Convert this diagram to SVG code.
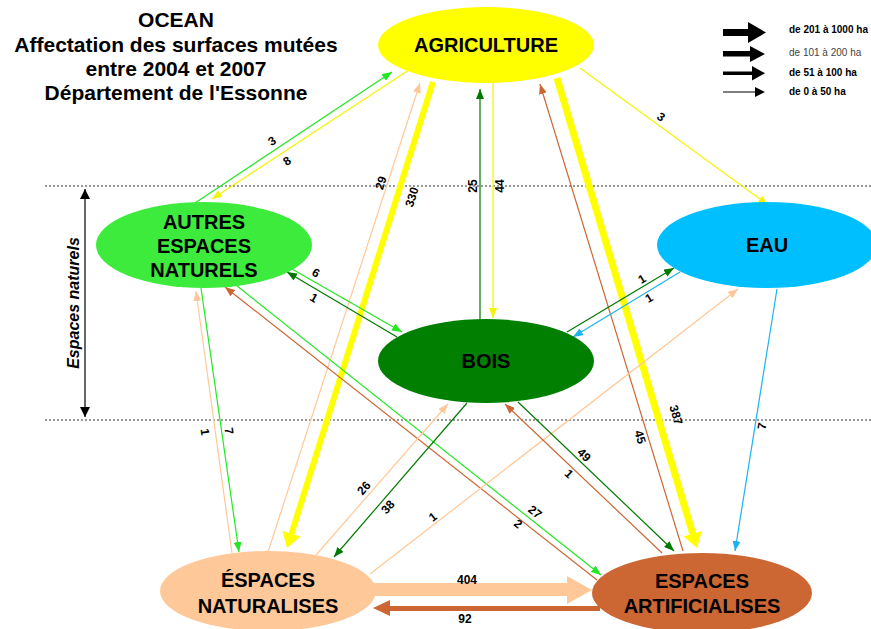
<svg xmlns="http://www.w3.org/2000/svg" width="871" height="629" viewBox="0 0 871 629">
<style>
text{font-family:"Liberation Sans",Arial,sans-serif;font-weight:bold;fill:#000}
.title{font-size:21px;text-anchor:middle}
.node{font-size:20px;text-anchor:middle}
.lbl{font-size:12px;text-anchor:middle}
.leg{font-size:10px}
.c{fill:none;stroke-width:1.2}
.dot{stroke:#333;stroke-width:1;stroke-dasharray:2,2}
</style>
<defs>
<marker id="mg" markerUnits="userSpaceOnUse" markerWidth="10" markerHeight="8" refX="10" refY="4" orient="auto"><path d="M0,0L10,4L0,8z" fill="#22e822"/></marker>
<marker id="my" markerUnits="userSpaceOnUse" markerWidth="10" markerHeight="8" refX="10" refY="4" orient="auto"><path d="M0,0L10,4L0,8z" fill="#f4f400"/></marker>
<marker id="md" markerUnits="userSpaceOnUse" markerWidth="10" markerHeight="8" refX="10" refY="4" orient="auto"><path d="M0,0L10,4L0,8z" fill="#007a00"/></marker>
<marker id="mp" markerUnits="userSpaceOnUse" markerWidth="10" markerHeight="8" refX="10" refY="4" orient="auto"><path d="M0,0L10,4L0,8z" fill="#ffc898"/></marker>
<marker id="mb" markerUnits="userSpaceOnUse" markerWidth="10" markerHeight="8" refX="10" refY="4" orient="auto"><path d="M0,0L10,4L0,8z" fill="#cc6633"/></marker>
<marker id="ml" markerUnits="userSpaceOnUse" markerWidth="10" markerHeight="8" refX="10" refY="4" orient="auto"><path d="M0,0L10,4L0,8z" fill="#1ab4f0"/></marker>
<marker id="mY" markerUnits="userSpaceOnUse" markerWidth="15" markerHeight="19" refX="1" refY="9.5" orient="auto"><path d="M0,0L15,9.5L0,19z" fill="#ffff00"/></marker>
<marker id="mk" markerUnits="userSpaceOnUse" markerWidth="10" markerHeight="10" refX="10" refY="5" orient="auto-start-reverse"><path d="M0,0L10,5L0,10z" fill="#000"/></marker>
</defs>
<rect width="871" height="629" fill="#fff"/>

<g id="title">
<text class="title" x="176" y="27">OCEAN</text>
<text class="title" x="176" y="52">Affectation des surfaces mutées</text>
<text class="title" x="176" y="76">entre 2004 et 2007</text>
<text class="title" x="176" y="100">Département de l'Essonne</text>
</g>

<g id="legend">
<polygon points="723,29 748,29 748,22 766,32.5 748,43 748,36 723,36" fill="#000"/>
<polygon points="723,51 750,51 750,46 765,54 750,62 750,56.5 723,56.5" fill="#000"/>
<polygon points="723,71.5 752,71.5 752,66 765,73.3 752,80.5 752,75 723,75" fill="#000"/>
<polygon points="723,91.4 755,91.4 755,87 765,92 755,97 755,92.6 723,92.6" fill="#000"/>
<text class="leg" x="789" y="33">de 201 à 1000 ha</text>
<text class="leg" x="789" y="56" style="font-weight:normal;fill:#444">de 101 à 200 ha</text>
<text class="leg" x="789" y="76">de 51 à 100 ha</text>
<text class="leg" x="789" y="95">de 0 à 50 ha</text>
</g>

<g id="zones">
<line class="dot" x1="45" y1="186" x2="871" y2="186"/>
<line class="dot" x1="45" y1="420" x2="871" y2="420"/>
<line x1="85" y1="189" x2="85" y2="417" stroke="#000" stroke-width="1.2" marker-start="url(#mk)" marker-end="url(#mk)"/>
<text transform="translate(79,303) rotate(-90)" style="font-size:16px;font-style:italic;text-anchor:middle">Espaces naturels</text>
</g>

<g id="connectors">
<path class="c" stroke="#22e822" d="M195,203L392,72" marker-end="url(#mg)"/>
<path class="c" stroke="#f4f400" d="M415,66L212,199" marker-end="url(#my)"/>
<path class="c" stroke="#ffc898" d="M268,552L420,83" marker-end="url(#mp)"/>
<path fill="none" stroke="#ffff00" stroke-width="6" d="M433,82L291.2,534.6" marker-end="url(#mY)"/>
<path class="c" stroke="#007a00" d="M480,322L480,89" marker-end="url(#md)"/>
<path class="c" stroke="#f4f400" d="M493,83L493,318" marker-end="url(#my)"/>
<path class="c" stroke="#cc6633" d="M683,551L540,84" marker-end="url(#mb)"/>
<path fill="none" stroke="#ffff00" stroke-width="7" d="M557,78L693,534.6" marker-end="url(#mY)"/>
<path class="c" stroke="#f4f400" d="M580,68L768,205" marker-end="url(#my)"/>
<path class="c" stroke="#22e822" d="M285,265L402,332" marker-end="url(#mg)"/>
<path class="c" stroke="#007a00" d="M397,337L287,272" marker-end="url(#md)"/>
<path class="c" stroke="#007a00" d="M567,332L674,268" marker-end="url(#md)"/>
<path class="c" stroke="#1ab4f0" d="M680,272L573,337" marker-end="url(#ml)"/>
<path class="c" stroke="#22e822" d="M201,288L239,552" marker-end="url(#mg)"/>
<path class="c" stroke="#ffc898" d="M232,553L196,291" marker-end="url(#mp)"/>
<path class="c" stroke="#22e822" d="M227,278L601,575" marker-end="url(#mg)"/>
<path class="c" stroke="#cc6633" d="M597,580L225,287" marker-end="url(#mb)"/>
<path class="c" stroke="#ffc898" d="M316,555L448,404" marker-end="url(#mp)"/>
<path class="c" stroke="#007a00" d="M467,403L334,557" marker-end="url(#md)"/>
<path class="c" stroke="#ffc898" d="M370,574L738,289" marker-end="url(#mp)"/>
<path class="c" stroke="#007a00" d="M518,402L674,551" marker-end="url(#md)"/>
<path class="c" stroke="#cc6633" d="M662,553L505,404" marker-end="url(#mb)"/>
<path class="c" stroke="#1ab4f0" d="M777,289L735,551" marker-end="url(#ml)"/>
<polygon points="360,583 567,583 567,576 592,590 567,604 567,596 360,596" fill="#ffc898"/>
<polygon points="600,606 390,606 390,600 373,608 390,616 390,611 600,611" fill="#cc6633"/>
</g>

<g id="labels">
<text class="lbl" transform="translate(272,141) rotate(-33.6)" y="4">3</text>
<text class="lbl" transform="translate(287,161) rotate(-33.6)" y="4">8</text>
<text class="lbl" transform="translate(381,183) rotate(-72)" y="4">29</text>
<text class="lbl" transform="translate(412,197) rotate(-72.6)" y="4">330</text>
<text class="lbl" transform="translate(473,186) rotate(-90)" y="4">25</text>
<text class="lbl" transform="translate(500,186) rotate(-90)" y="4">44</text>
<text class="lbl" transform="translate(640,437) rotate(73.3)" y="4">45</text>
<text class="lbl" transform="translate(676,415) rotate(73.4)" y="4">387</text>
<text class="lbl" transform="translate(661,117) rotate(36)" y="4">3</text>
<text class="lbl" transform="translate(316,273) rotate(29.6)" y="4">6</text>
<text class="lbl" transform="translate(314,298) rotate(29.6)" y="4">1</text>
<text class="lbl" transform="translate(642,279) rotate(-31.3)" y="4">1</text>
<text class="lbl" transform="translate(649,298) rotate(-31.3)" y="4">1</text>
<text class="lbl" transform="translate(205,432) rotate(82)" y="4">1</text>
<text class="lbl" transform="translate(229,431) rotate(82)" y="4">7</text>
<text class="lbl" transform="translate(535,512) rotate(38.2)" y="4">27</text>
<text class="lbl" transform="translate(518,524) rotate(38.2)" y="4">2</text>
<text class="lbl" transform="translate(364,488) rotate(-48.8)" y="4">26</text>
<text class="lbl" transform="translate(388,507) rotate(-48.8)" y="4">38</text>
<text class="lbl" transform="translate(433,517) rotate(-37.8)" y="4">1</text>
<text class="lbl" transform="translate(584,455) rotate(43.7)" y="4">49</text>
<text class="lbl" transform="translate(569,474) rotate(43.7)" y="4">1</text>
<text class="lbl" transform="translate(762,426) rotate(-81)" y="4">7</text>
<text class="lbl" x="467" y="584">404</text>
<text class="lbl" x="465" y="623">92</text>
</g>

<g id="agriculture">
<ellipse cx="486" cy="45" rx="108" ry="38" fill="#ffff00"/>
<text class="node" x="486" y="52">AGRICULTURE</text>
</g>
<g id="autres-espaces-naturels">
<ellipse cx="204" cy="245" rx="108" ry="43" fill="#3ceb3c"/>
<text class="node" x="204" y="229">AUTRES</text>
<text class="node" x="204" y="253">ESPACES</text>
<text class="node" x="204" y="277">NATURELS</text>
</g>
<g id="eau">
<ellipse cx="767" cy="245" rx="110" ry="43" fill="#00bfff"/>
<text class="node" x="767" y="252">EAU</text>
</g>
<g id="bois">
<ellipse cx="486" cy="361" rx="108" ry="42" fill="#007f00"/>
<text class="node" x="486" y="368">BOIS</text>
</g>
<g id="espaces-naturalises">
<ellipse cx="268" cy="591" rx="108" ry="40" fill="#ffc898"/>
<text class="node" x="268" y="587">ÉSPACES</text>
<text class="node" x="268" y="613">NATURALISES</text>
</g>
<g id="espaces-artificialises">
<ellipse cx="702" cy="593" rx="110" ry="40" fill="#cc6633"/>
<text class="node" x="702" y="588">ESPACES</text>
<text class="node" x="702" y="613">ARTIFICIALISES</text>
</g>
</svg>
